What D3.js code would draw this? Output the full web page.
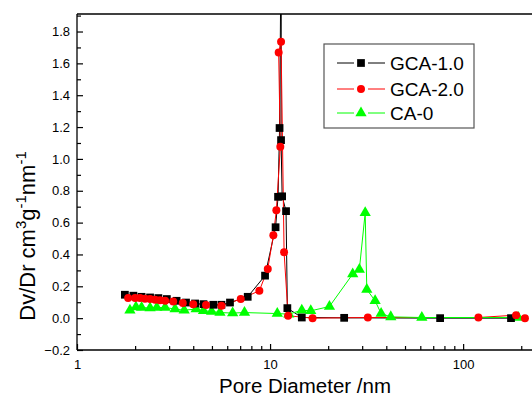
<!DOCTYPE html>
<html><head><meta charset="utf-8">
<script src="https://cdn.jsdelivr.net/npm/d3@7/dist/d3.min.js"></script>
<style>body{margin:0;background:#fff}svg{display:block}text{font-family:Arial,"Liberation Sans",sans-serif}</style>
</head><body>
<svg id="c" width="532" height="400"></svg>
<script>
const seriesNames = ["GCA-1.0", "GCA-2.0", "CA-0"];
const gca1 = [[1.77,0.147],[1.96,0.141],[2.16,0.134],[2.39,0.13],[2.64,0.126],[2.92,0.12],[3.28,0.109],[3.67,0.098],[4.09,0.092],[4.52,0.088],[5.08,0.084],[5.6,0.084],[6.2,0.098],[7.66,0.134],[9.42,0.267],[10.68,0.571],[11.0,0.762],[11.2,1.194],[11.45,2.6],[11.4,1.118],[11.55,0.765],[12.1,0.672],[12.29,0.063],[14.6,0.004],[24.2,0.002],[76,0.0],[177,0.0]];
const gca2 = [[1.84,0.126],[2.0,0.126],[2.12,0.126],[2.25,0.122],[2.39,0.12],[2.54,0.115],[2.69,0.113],[2.86,0.109],[3.15,0.105],[3.53,0.095],[4.0,0.088],[4.66,0.082],[5.6,0.078],[7.05,0.12],[8.8,0.172],[9.73,0.309],[10.4,0.52],[10.78,0.677],[11.3,1.076],[11.08,1.668],[11.4,1.736],[11.82,0.414],[12.4,0.015],[16.6,0.0],[32.1,0.004],[120,0.004],[188,0.019],[209,0.0]];
const ca0 = [[1.88,0.05],[2.02,0.07],[2.16,0.067],[2.39,0.063],[2.59,0.067],[2.86,0.067],[3.22,0.057],[3.59,0.05],[4.14,0.057],[4.52,0.046],[4.98,0.042],[5.5,0.035],[6.4,0.032],[7.37,0.035],[10.9,0.029],[12.5,0.025],[14.6,0.05],[16.25,0.046],[20.3,0.073],[26.8,0.277],[29.0,0.305],[31.1,0.662],[31.7,0.18],[35.0,0.109],[37.6,0.029],[42.2,0.008],[61.1,0.004],[193,0.004]];
const xMajor = [1, 10, 100];
const xMajorLabels = ["1", "10", "100"];
const xMinor = [2,3,4,5,6,7,8,9,20,30,40,50,60,70,80,90,200];
const yMajor = [-0.2,0,0.2,0.4,0.6,0.8,1.0,1.2,1.4,1.6,1.8];
const yMinor = [-0.1,0.1,0.3,0.5,0.7,0.9,1.1,1.3,1.5,1.7,1.9];
const xTitle = "Pore Diameter /nm";

const svg = d3.select("#c");
const L = 77, R = 530, T = 14, B = 350;
const x = d3.scaleLog().domain([1, 222]).range([L, R]);
const y = d3.scaleLinear().domain([-0.2, 1.91]).range([B, T]);

svg.append("defs").append("clipPath").attr("id","clip")
  .append("rect").attr("x", L).attr("y", T).attr("width", 532 - L).attr("height", B - T);

// x axis
const gx = svg.append("g").attr("transform", `translate(0,${B})`);
gx.call(d3.axisBottom(x).tickValues(xMajor).tickSize(-6).tickPadding(10)
  .tickFormat((d,i) => xMajorLabels[i]));
gx.append("g").call(d3.axisBottom(x).tickValues(xMinor).tickSize(-4).tickFormat(""));
gx.selectAll("text").attr("font-size", 13).attr("fill", "#000");

// y axis
const gy = svg.append("g").attr("transform", `translate(${L},0)`);
gy.call(d3.axisLeft(y).tickValues(yMajor).tickSize(-6).tickPadding(7)
  .tickFormat(d3.format(".1f")));
gy.append("g").call(d3.axisLeft(y).tickValues(yMinor).tickSize(-4).tickFormat(""));
gy.selectAll("text").attr("font-size", 13).attr("fill", "#000");
svg.selectAll(".domain").remove();
svg.selectAll(".tick line").attr("stroke-width", 1.2);

// frame
svg.append("line").attr("x1", L).attr("x2", 532).attr("y1", T).attr("y2", T).attr("stroke", "#000").attr("stroke-width", 1.3);
svg.append("line").attr("x1", L).attr("x2", L).attr("y1", T).attr("y2", B).attr("stroke","#000").attr("stroke-width",1.3);
svg.append("line").attr("x1", L).attr("x2", 532).attr("y1", B).attr("y2", B).attr("stroke","#000").attr("stroke-width",1.3);

// titles
svg.append("text").attr("x", 305).attr("y", 393).attr("text-anchor", "middle")
  .attr("font-size", 20.5).text(xTitle);
const yt = svg.append("text").attr("transform", "translate(35,236) rotate(-90)")
  .attr("text-anchor", "middle").attr("font-size", 22);
yt.append("tspan").text("Dv/Dr cm");
yt.append("tspan").attr("font-size", 15).attr("dy", -9).text("3");
yt.append("tspan").attr("dy", 9).text("g");
yt.append("tspan").attr("font-size", 15).attr("dy", -9).text("-1");
yt.append("tspan").attr("dy", 9).text("nm");
yt.append("tspan").attr("font-size", 15).attr("dy", -9).text("-1");

const colors = ["#000000", "#ff0000", "#00ff00"];
const sets = [gca1, gca2, ca0];
const plot = svg.append("g").attr("clip-path", "url(#clip)");
const line = d3.line().x(d => x(d[0])).y(d => y(d[1]));
const sym = [d3.symbolSquare, d3.symbolCircle, d3.symbolTriangle];
const symSize = [60, 50, 55];

sets.forEach((s, i) => {
  plot.append("path").datum(s).attr("d", line).attr("fill", "none")
    .attr("stroke", colors[i]).attr("stroke-width", 1);
});
[2, 0, 1].forEach(i => {
  plot.selectAll(null).data(sets[i]).enter().append("path")
    .attr("transform", d => `translate(${x(d[0])},${y(d[1])})`)
    .attr("d", d3.symbol().type(sym[i]).size(symSize[i]))
    .attr("fill", colors[i]);
});

// legend
const lg = svg.append("g");
lg.append("rect").attr("x", 324).attr("y", 44).attr("width", 150).attr("height", 84)
  .attr("fill", "#fff").attr("stroke", "#555").attr("stroke-width", 1.2);
const ly = [63, 89, 113];
seriesNames.forEach((n, i) => {
  lg.append("line").attr("x1", 337).attr("x2", 354).attr("y1", ly[i]).attr("y2", ly[i]).attr("stroke", colors[i]);
  lg.append("line").attr("x1", 368).attr("x2", 385).attr("y1", ly[i]).attr("y2", ly[i]).attr("stroke", colors[i]);
  lg.append("path").attr("transform", `translate(361,${ly[i]})`)
    .attr("d", d3.symbol().type(sym[i]).size(symSize[i])).attr("fill", colors[i]);
  lg.append("text").attr("x", 390).attr("y", ly[i] + 7).attr("font-size", 19).text(n);
});
</script>
</body></html>
